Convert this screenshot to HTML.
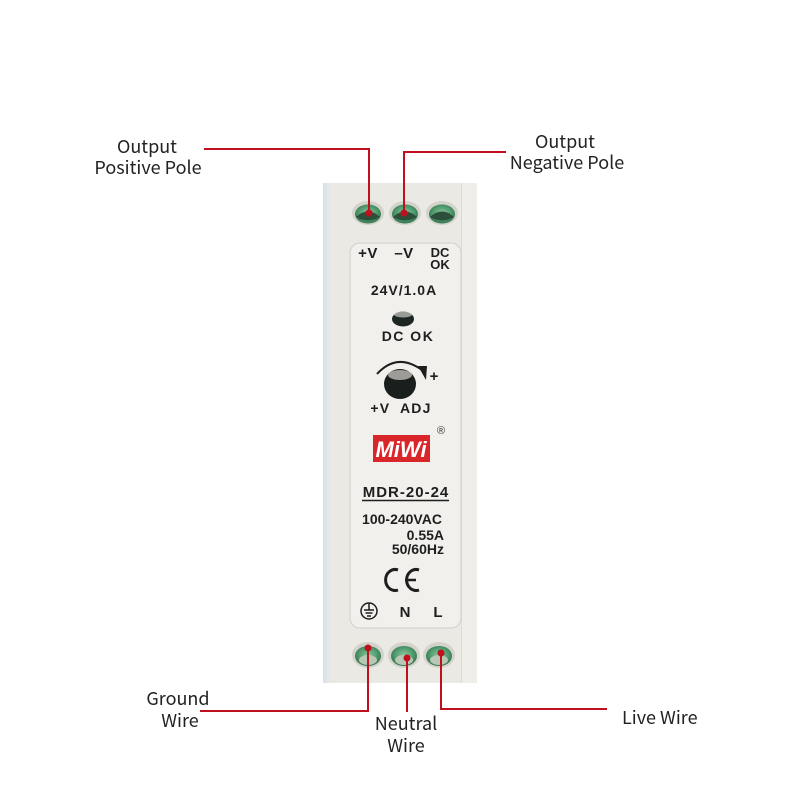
<!DOCTYPE html>
<html><head><meta charset="utf-8"><style>
html,body{margin:0;padding:0;background:#fff;}
svg{display:block;}
.lbl{font-family:"Noto Sans CJK SC","Liberation Sans",sans-serif;font-size:18px;fill:#222;}
.b{font-family:"Liberation Sans",Arial,sans-serif;font-weight:bold;fill:#1e1e1e;}
</style></head><body>
<svg width="800" height="800" viewBox="0 0 800 800" xmlns="http://www.w3.org/2000/svg">
<defs>
<linearGradient id="lft" x1="0" x2="1" y1="0" y2="0">
<stop offset="0" stop-color="#d3e2ec"/><stop offset="1" stop-color="#e9e8e3"/>
</linearGradient>
<radialGradient id="tg" cx="0.5" cy="0.45" r="0.6">
<stop offset="0" stop-color="#8cc5a0"/><stop offset="0.6" stop-color="#4e9a6c"/><stop offset="1" stop-color="#2d6a48"/>
</radialGradient>
</defs>
<!-- body -->
<rect x="323" y="183" width="154" height="500" fill="#ebe9e4"/>
<rect x="323" y="183" width="7" height="500" fill="url(#lft)"/>
<rect x="462" y="183" width="15" height="500" fill="#efeeea"/>
<line x1="461.5" y1="183" x2="461.5" y2="683" stroke="#dcdad4" stroke-width="1"/>
<!-- panel -->
<rect x="350" y="243" width="111" height="385" rx="10" fill="#f1f0ed" stroke="#d6d4ce" stroke-width="1.2"/>

<!-- top terminals -->
<g>
<ellipse cx="368" cy="213" rx="16" ry="12" fill="#d3d2cb"/>
<ellipse cx="368" cy="214" rx="13" ry="9.5" fill="url(#tg)"/>
<path d="M356 217 Q368 206 380 217 Q368 224 356 217Z" fill="#2b4f3a"/>
<ellipse cx="405" cy="213" rx="16" ry="12" fill="#d3d2cb"/>
<ellipse cx="405" cy="214" rx="13" ry="9.5" fill="url(#tg)"/>
<path d="M393 217 Q405 206 417 217 Q405 224 393 217Z" fill="#2b4f3a"/>
<ellipse cx="442" cy="213" rx="16" ry="12" fill="#d3d2cb"/>
<ellipse cx="442" cy="214" rx="13" ry="9.5" fill="url(#tg)"/>
<path d="M430 217 Q442 206 454 217 Q442 224 430 217Z" fill="#2b4f3a"/>
</g>
<!-- bottom terminals -->
<g>
<ellipse cx="368" cy="655" rx="16" ry="13" fill="#d3d2cb"/>
<ellipse cx="368" cy="656" rx="13" ry="10" fill="url(#tg)"/>
<ellipse cx="368" cy="660" rx="9" ry="5" fill="#b9c7b5"/>
<ellipse cx="404" cy="655" rx="16" ry="13" fill="#d3d2cb"/>
<ellipse cx="404" cy="656" rx="13" ry="10" fill="url(#tg)"/>
<ellipse cx="404" cy="660" rx="9" ry="5" fill="#b9c7b5"/>
<ellipse cx="439" cy="655" rx="16" ry="13" fill="#d3d2cb"/>
<ellipse cx="439" cy="656" rx="13" ry="10" fill="url(#tg)"/>
<ellipse cx="439" cy="660" rx="9" ry="5" fill="#b9c7b5"/>
</g>

<!-- panel text -->
<text class="b" x="368" y="258" font-size="15" letter-spacing="0.5" text-anchor="middle">+V</text>
<text class="b" x="404" y="258" font-size="15" letter-spacing="0.5" text-anchor="middle">–V</text>
<text class="b" x="440" y="257" font-size="13" text-anchor="middle">DC</text>
<text class="b" x="440" y="269" font-size="13" text-anchor="middle">OK</text>
<text class="b" x="404" y="295" font-size="14" letter-spacing="1" text-anchor="middle">24V/1.0A</text>
<ellipse cx="403" cy="319" rx="11" ry="7.5" fill="#1c2622"/>
<ellipse cx="403" cy="314.5" rx="9" ry="3" fill="#cfcec8" opacity="0.7"/>
<text class="b" x="408" y="341" font-size="14" letter-spacing="1.5" text-anchor="middle">DC OK</text>
<path d="M377 374 Q397 352 422 370" fill="none" stroke="#1e1e1e" stroke-width="2"/>
<polygon points="418,366 427,366 426,380" fill="#1e1e1e"/>
<text class="b" x="434" y="381" font-size="15" text-anchor="middle">+</text>
<ellipse cx="400" cy="384" rx="16" ry="15" fill="#1a1f1d"/>
<ellipse cx="400" cy="375" rx="12" ry="5" fill="#c9c7c1" opacity="0.75"/>
<text class="b" x="401" y="413" font-size="14" letter-spacing="1.2" text-anchor="middle" xml:space="preserve">+V  ADJ</text>
<text x="441" y="434" font-family="Liberation Sans,sans-serif" font-size="11" fill="#333" text-anchor="middle">®</text>
<rect x="373" y="435" width="57" height="27" fill="#d9262a"/>
<text x="401" y="457" font-family="Liberation Sans,sans-serif" font-weight="bold" font-style="italic" font-size="22" fill="#fff" text-anchor="middle">MiWi</text>
<text class="b" x="406" y="497" font-size="15" letter-spacing="1" text-anchor="middle">MDR-20-24</text>
<line x1="362" y1="500.5" x2="449" y2="500.5" stroke="#1e1e1e" stroke-width="1.5"/>
<text class="b" x="402" y="524" font-size="14" text-anchor="middle">100-240VAC</text>
<text class="b" x="444" y="540" font-size="14" text-anchor="end">0.55A</text>
<text class="b" x="444" y="554" font-size="14" text-anchor="end">50/60Hz</text>
<!-- CE -->
<path d="M398 570 A9.5 10.5 0 1 0 398 590" fill="none" stroke="#1e1e1e" stroke-width="3"/>
<path d="M419 570 A9.5 10.5 0 1 0 419 590" fill="none" stroke="#1e1e1e" stroke-width="3"/>
<line x1="405" y1="580" x2="416" y2="580" stroke="#1e1e1e" stroke-width="2.5"/>
<!-- ground symbol -->
<circle cx="369" cy="611" r="8" fill="none" stroke="#1e1e1e" stroke-width="1.5"/>
<line x1="369" y1="603" x2="369" y2="610" stroke="#1e1e1e" stroke-width="1.5"/>
<line x1="364" y1="610" x2="374" y2="610" stroke="#1e1e1e" stroke-width="1.5"/>
<line x1="365.5" y1="613" x2="372.5" y2="613" stroke="#1e1e1e" stroke-width="1.5"/>
<line x1="367" y1="616" x2="371" y2="616" stroke="#1e1e1e" stroke-width="1.5"/>
<text class="b" x="405" y="617" font-size="15" text-anchor="middle">N</text>
<text class="b" x="438" y="617" font-size="15" text-anchor="middle">L</text>

<!-- connectors -->
<g stroke="#c0101e" stroke-width="2" fill="none">
<polyline points="204,149 369,149 369,213"/>
<polyline points="506,152 404,152 404,213"/>
<polyline points="200,711 368,711 368,648"/>
<polyline points="407,712 407,658"/>
<polyline points="607,709 441,709 441,653"/>
</g>
<g fill="#c0101e">
<circle cx="369" cy="213" r="3.5"/>
<circle cx="404" cy="213" r="3.5"/>
<circle cx="368" cy="648" r="3.5"/>
<circle cx="407" cy="658" r="3.5"/>
<circle cx="441" cy="653" r="3.5"/>
</g>

<!-- labels -->
<text class="lbl" x="147" y="153" text-anchor="middle">Output</text>
<text class="lbl" x="148" y="174" text-anchor="middle">Positive Pole</text>
<text class="lbl" x="565" y="148" text-anchor="middle">Output</text>
<text class="lbl" x="567" y="169" text-anchor="middle">Negative Pole</text>
<text class="lbl" x="178" y="705" text-anchor="middle">Ground</text>
<text class="lbl" x="180" y="727" text-anchor="middle">Wire</text>
<text class="lbl" x="406" y="730" text-anchor="middle">Neutral</text>
<text class="lbl" x="406" y="752" text-anchor="middle">Wire</text>
<text class="lbl" x="622" y="724">Live Wire</text>
</svg>
</body></html>
